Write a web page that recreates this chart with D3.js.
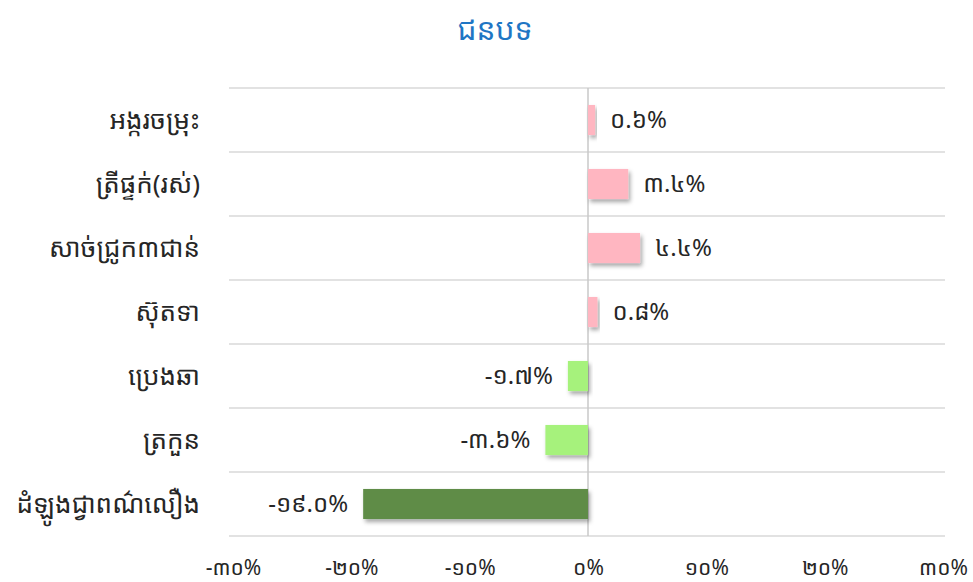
<!DOCTYPE html>
<html><head><meta charset="utf-8">
<script src="https://cdn.jsdelivr.net/npm/d3@7"></script>
<style>
html,body{margin:0;padding:0;background:#fff;}
text{font-family:"Noto Sans Khmer","Khmer OS","Noto Sans",sans-serif;}
</style></head>
<body>
<svg id="chart" width="973" height="582"></svg>
<script>
const title = "ជនបទ";
const categories = ["អង្ករចម្រុះ","ត្រីផ្ទក់(រស់)","សាច់ជ្រូក៣ជាន់","ស៊ុតទា","ប្រេងឆា","ត្រកួន","ដំឡូងជ្វាពណ៌លឿង"];
const values = [0.6, 3.4, 4.4, 0.8, -1.7, -3.6, -19.0];
const barColors = ["#FFB6C1","#FFB6C1","#FFB6C1","#FFB6C1","#A6F27C","#A6F27C","#5E8C46"];
const tickValues = [-30,-20,-10,0,10,20,30];

const khDigits = "០១២៣៤៥៦៧៨៩";
const kh = s => String(s).replace(/[0-9]/g, d => khDigits[+d]);

const svg = d3.select("#chart");
const x = d3.scaleLinear().domain([-30,30]).range([233, 943]);
const y = d3.scaleBand().domain(categories).range([88, 536]).paddingInner(0.53).paddingOuter(0.265);

const defs = svg.append("defs");
const f = defs.append("filter").attr("id","sh").attr("x","-20%").attr("y","-30%").attr("width","140%").attr("height","180%");
f.append("feDropShadow").attr("dx",2).attr("dy",3).attr("stdDeviation",2).attr("flood-color","#000").attr("flood-opacity",0.35);

// title
svg.append("text").attr("x",495).attr("y",29).attr("dy","0.35em").attr("text-anchor","middle")
  .attr("fill","#1F76C4").attr("font-size",30).text(title);

// horizontal gridlines (band boundaries)
const bounds = d3.range(categories.length+1).map(i => 88 + i*(448/categories.length));
svg.append("g").selectAll("line").data(bounds).join("line")
  .attr("x1",229).attr("x2",945).attr("y1",d=>d).attr("y2",d=>d)
  .attr("stroke","#d9d9d9").attr("stroke-width",1.5);

// zero line
svg.append("line").attr("x1",x(0)).attr("x2",x(0)).attr("y1",88).attr("y2",536)
  .attr("stroke","#c8c8c8").attr("stroke-width",1.5);

// bars
svg.append("g").selectAll("rect").data(values).join("rect")
  .attr("x",d=>x(Math.min(0,d))).attr("width",d=>Math.abs(x(d)-x(0)))
  .attr("y",(d,i)=>y(categories[i])).attr("height",y.bandwidth())
  .attr("fill",(d,i)=>barColors[i]).attr("filter","url(#sh)");

// value labels
svg.append("g").selectAll("text").data(values).join("text")
  .attr("x",d=> d>=0 ? x(d)+15 : x(d)-15)
  .attr("y",(d,i)=>y(categories[i])+y.bandwidth()/2)
  .attr("dy","0.35em")
  .attr("text-anchor",d=>d>=0?"start":"end")
  .attr("font-size",24).attr("fill","#262626")
  .text(d=>kh(d.toFixed(1))+"%");

// category labels
svg.append("g").selectAll("text").data(categories).join("text")
  .attr("x",200).attr("y",d=>y(d)+y.bandwidth()/2).attr("dy","0.35em")
  .attr("text-anchor","end").attr("font-size",26).attr("fill","#262626")
  .text(d=>d);

// x axis
const xAxis = d3.axisBottom(x).tickValues(tickValues).tickSize(0).tickFormat(d=>kh(d)+"%");
const ga = svg.append("g").attr("transform","translate(0,568)").call(xAxis);
ga.select(".domain").remove();
ga.selectAll("text").attr("font-size",21).attr("fill","#262626").attr("y",0).attr("dy","0.35em")
  .style("font-family",'"Noto Sans Khmer","Khmer OS","Noto Sans",sans-serif');
</script>
</body></html>
